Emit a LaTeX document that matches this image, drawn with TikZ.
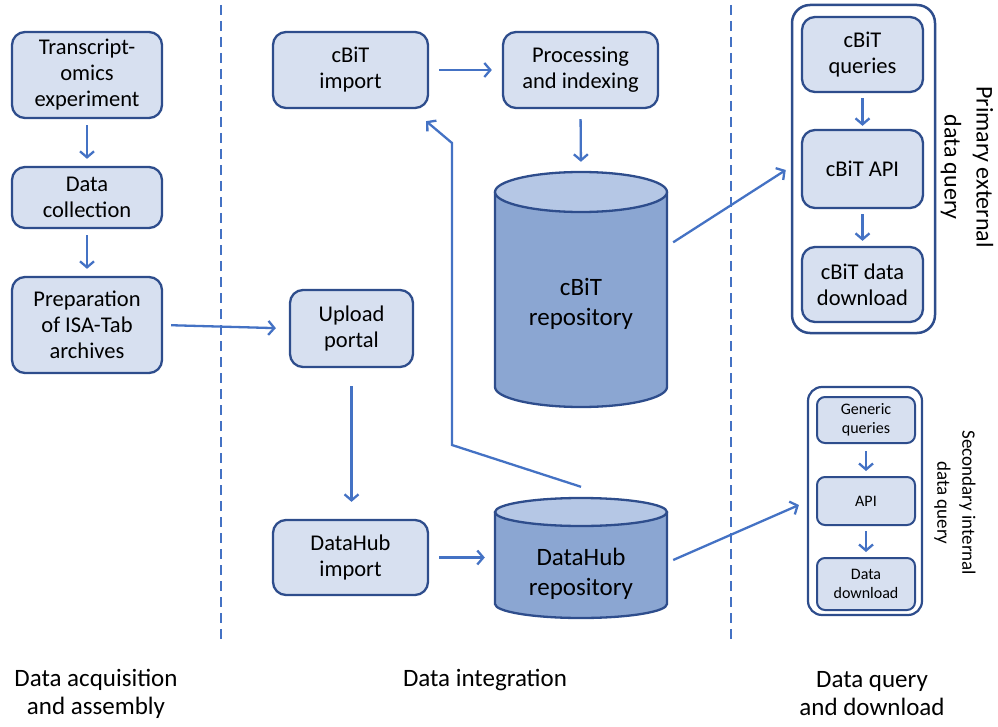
\documentclass[tikz,border=0pt]{standalone}
\usepackage{fontspec}
\setmainfont{Carlito}
\usetikzlibrary{arrows.meta}
\definecolor{boxfill}{HTML}{D7E0F0}
\definecolor{boxline}{HTML}{2E4D8C}
\definecolor{arr}{HTML}{4472C4}
\definecolor{cylbody}{HTML}{8BA6D2}
\definecolor{cyltop}{HTML}{B5C7E5}
\begin{document}
\begin{tikzpicture}[x=1pt,y=-1pt,
  stepbox/.style={draw=boxline, fill=boxfill, line width=2.3pt, rounded corners=13pt,
    align=center, inner sep=0pt, font=\fontsize{22.5}{26}\selectfont},
  smallbox/.style={stepbox, line width=2pt, rounded corners=8pt, font=\fontsize{16}{19}\selectfont},
  groupbox/.style={draw=boxline, fill=white, line width=2.5pt, rounded corners=18pt, inner sep=0pt},
  flow/.style={draw=arr, line width=2.3pt, -{Straight Barb[length=6pt,width=14pt,line width=2.3pt]}},
  divider/.style={draw=arr, line width=2.2pt, dash pattern=on 10pt off 6pt},
  cylshape/.style={draw=boxline, line width=2.3pt},
  repotext/.style={align=center, font=\fontsize{25}{30}\selectfont},
  phase/.style={align=center, font=\fontsize{25}{28}\selectfont},
]
\useasboundingbox (0,0) rectangle (998,727);

% dividers
\coordinate (d1t) at (221,5);  \coordinate (d1b) at (221,640);
\coordinate (d2t) at (731,5);  \coordinate (d2b) at (731,640);
\draw[divider] (d1t) -- (d1b);
\draw[divider] (d2t) -- (d2b);

% left column
\node[stepbox, minimum width=150pt, minimum height=86pt] (te) at (87,75) {Transcript-\\omics\\experiment};
\node[stepbox, minimum width=150pt, minimum height=61pt] (dc) at (87,197.5) {Data\\collection};
\node[stepbox, minimum width=150pt, minimum height=96pt] (prep) at (87,325) {Preparation\\of ISA-Tab\\archives};

% middle
\node[stepbox, minimum width=155pt, minimum height=76pt] (cimp) at (350.5,70) {cBiT\\import};
\node[stepbox, minimum width=155pt, minimum height=76pt] (proc) at (580.5,70) {Processing\\and indexing};
\node[stepbox, minimum width=123pt, minimum height=77pt] (upl) at (351.5,328.5) {Upload\\portal};
\node[stepbox, minimum width=155pt, minimum height=75pt] (dhi) at (350.5,557.5) {DataHub\\import};

% cBiT repository cylinder
\fill[cylbody] (495,192) -- (495,387) arc[start angle=180, end angle=0, x radius=86, y radius=20] -- (667,192) -- cycle;
\draw[cylshape] (495,192) -- (495,387) arc[start angle=180, end angle=0, x radius=86, y radius=20] -- (667,192);
\draw[cylshape, fill=cyltop] (581,192) ellipse [x radius=86, y radius=20];
\node[minimum width=172pt, minimum height=235pt, inner sep=0pt] (crepo) at (581,289.5) {};
\node[repotext] (crepotxt) at (581,304) {cBiT\\repository};

% DataHub repository cylinder
\fill[cylbody] (495,512) -- (495,604) arc[start angle=180, end angle=0, x radius=86, y radius=14] -- (667,512) -- cycle;
\draw[cylshape] (495,512) -- (495,604) arc[start angle=180, end angle=0, x radius=86, y radius=14] -- (667,512);
\draw[cylshape, fill=cyltop] (581,512) ellipse [x radius=86, y radius=14];
\node[minimum width=172pt, minimum height=120pt, inner sep=0pt] (drepo) at (581,558) {};
\node[repotext] (drepotxt) at (581,574) {DataHub\\repository};

% right: primary group
\node[groupbox, minimum width=143pt, minimum height=328pt] (pg) at (863.5,169) {};
\node[stepbox, minimum width=121pt, minimum height=75pt] (cq) at (862.5,54.5) {cBiT\\queries};
\node[stepbox, minimum width=121pt, minimum height=78pt] (capi) at (862.5,169) {cBiT API};
\node[stepbox, minimum width=121pt, minimum height=75pt] (cdl) at (862.5,284.5) {cBiT data\\download};
\node[rotate=-90, align=center, font=\fontsize{24}{32}\selectfont] (pglab) at (967,167) {Primary external\\data query};

% right: secondary group
\node[groupbox, rounded corners=14pt, line width=2.2pt, minimum width=114pt, minimum height=228pt] (sg) at (865,501) {};
\node[smallbox, minimum width=98pt, minimum height=46pt] (gq) at (866,420) {Generic\\queries};
\node[smallbox, minimum width=98pt, minimum height=48pt] (api) at (866,501) {API};
\node[smallbox, minimum width=98pt, minimum height=52pt] (ddl) at (866,584) {Data\\download};
\node[rotate=-90, align=center, font=\fontsize{19}{25}\selectfont] (sglab) at (955,503) {Secondary internal\\data query};

% phase labels
\node[phase] (ph1) at (96,694) {Data acquisition\\and assembly};
\node[phase] (ph2) at (485,680) {Data integration};
\node[phase] (ph3) at (872,694) {Data query\\and download};

% connectors
\draw[flow, shorten <=6pt, shorten >=7pt] (te) -- (dc);
\draw[flow, shorten <=6pt, shorten >=7pt] (dc) -- (prep);
\draw[flow, shorten <=8pt, shorten >=13pt] (prep.east) -- (upl.west);
\draw[flow, shorten <=10pt, shorten >=10pt] (cimp) -- (proc);
\draw[flow, shorten <=10pt, shorten >=10pt] (proc.south) -- (crepo.north);
\draw[flow, shorten <=18pt, shorten >=17pt] (upl.south) -- (upl.south |- dhi.north);
\draw[flow, shorten <=10pt, shorten >=10pt] (dhi.east) -- (drepo.west |- dhi.east);
\draw[flow] ([yshift=11pt]drepo.north) -- (452,445) -- (452,143) -- ([xshift=-3pt,yshift=-12pt]cimp.south east);
\draw[flow] ([xshift=6pt,yshift=-70.5pt]crepo.north east) -- ([xshift=-5pt,yshift=-1pt]pg.west);
\draw[flow] ([xshift=6pt,yshift=-2pt]drepo.east) -- ([xshift=-8pt,yshift=-4pt]sg.west);
\draw[flow, shorten <=5pt, shorten >=3pt] (cq) -- (capi);
\draw[flow, shorten <=5pt, shorten >=5pt] (capi) -- (cdl);
\draw[flow, shorten <=7pt, shorten >=5pt] (gq) -- (api);
\draw[flow, shorten <=5pt, shorten >=5pt] (api) -- (ddl);
\end{tikzpicture}
\end{document}
